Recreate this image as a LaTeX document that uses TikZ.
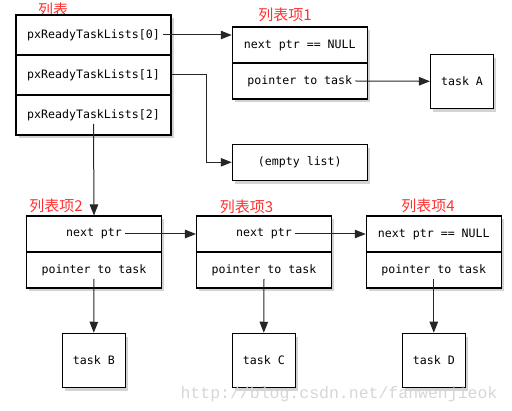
\documentclass[tikz,border=0pt]{standalone}
\usepackage{fontspec}
\setmonofont{DejaVu Sans Mono}
\newfontfamily\cjk{Noto Sans CJK SC}
\newfontfamily\markfont{Liberation Mono}
\usetikzlibrary{arrows.meta, positioning, shadows, calc}
\definecolor{tagred}{HTML}{FF3030}

\begin{document}
\begin{tikzpicture}[
  x=1pt, y=-1pt,
  box/.style={
    rectangle, draw=black, line width=1.1pt, fill=white, inner sep=0pt,
    drop shadow={shadow xshift=2.5pt, shadow yshift=-3.5pt, opacity=0.35},
  },
  listrow/.style={box, minimum width=155pt, minimum height=40pt},
  itemrow/.style={box, minimum width=135pt, minimum height=36pt},
  task/.style={box, minimum width=63pt, minimum height=54pt,
    font=\ttfamily\fontsize{11.6}{14}\selectfont},
  txt/.style={font=\ttfamily\fontsize{11.6}{14}\selectfont, inner sep=3pt},
  tag/.style={font=\cjk\fontsize{15}{16}\selectfont, text=tagred, inner sep=0pt},
  ptr/.style={draw=black!85, line width=1pt, -{Triangle[length=11pt,width=8.5pt]}},
]
  \useasboundingbox (0,0) rectangle (512,411);

  % the list array
  \node[tag] (tlist) at (53,10) {列表};
  \node[listrow] (l0) at (93.5,35) {};
  \node[listrow] (l1) at (93.5,75) {};
  \node[listrow] (l2) at (93.5,115) {};
  \node[txt] (t0) at (l0) {pxReadyTaskLists[0]};
  \node[txt] (t1) at (l1) {pxReadyTaskLists[1]};
  \node[txt] (t2) at (l2) {pxReadyTaskLists[2]};

  % list item 1 and the empty list
  \node[tag] (ti1) at (285,15) {列表项1};
  \node[itemrow] (i1a) at (299.8,45) {};
  \node[itemrow] (i1b) at (299.8,81) {};
  \node[txt] (n1) at (i1a) {next ptr == NULL};
  \node[txt] (p1) at (i1b) {pointer to task};
  \node[task] (taskA) at (462,81.3) {task A};
  \node[itemrow] (empty) at (299.8,162.3) {};
  \node[txt] (te) at (empty) {(empty list)};

  % list items 2 to 4
  \node[tag] (ti2) at (56,206) {列表项2};
  \node[itemrow] (i2a) at (94,234) {};
  \node[itemrow] (i2b) at (94,270) {};
  \node[txt] (n2) at (i2a) {next ptr};
  \node[txt] (p2) at (i2b) {pointer to task};

  \node[tag] (ti3) at (246.5,207) {列表项3};
  \node[itemrow] (i3a) at (264,234) {};
  \node[itemrow] (i3b) at (264,270) {};
  \node[txt] (n3) at (i3a) {next ptr};
  \node[txt] (p3) at (i3b) {pointer to task};

  \node[tag] (ti4) at (428,206) {列表项4};
  \node[itemrow] (i4a) at (433.8,234) {};
  \node[itemrow] (i4b) at (433.8,270) {};
  \node[txt] (n4) at (i4a) {next ptr == NULL};
  \node[txt] (p4) at (i4b) {pointer to task};

  % tasks
  \node[task] (taskB) at (93.8,360.3) {task B};
  \node[task] (taskC) at (263.8,360.3) {task C};
  \node[task] (taskD) at (433.8,360.3) {task D};

  % pointers
  \draw[ptr] (t0.east) -- (t0.east -| i1a.west);
  \draw[ptr] (l1.east) -- ++(35,0) |- (empty.west);
  \draw[ptr] (t2.south) -- (i2a.north);
  \draw[ptr] (p1.east) -- (taskA.west);
  \draw[ptr] (n2.east) -- (i3a.west);
  \draw[ptr] (n3.east) -- (i4a.west);
  \draw[ptr] (p2.south) -- (taskB.north);
  \draw[ptr] (p3.south) -- (taskC.north);
  \draw[ptr] (p4.south) -- (taskD.north);

  \node[font=\markfont\fontsize{16.5}{18}\selectfont, text=black!16] (mark) at (339,394) {http://blog.csdn.net/fanwenjieok};
\end{tikzpicture}
\end{document}
